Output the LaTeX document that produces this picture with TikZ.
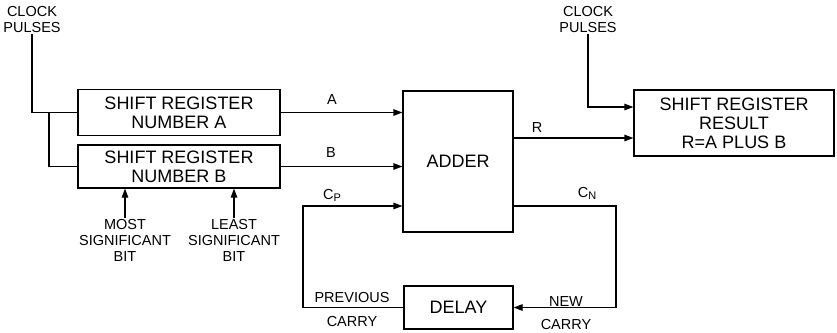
\documentclass[tikz,border=0pt]{standalone}
\usepackage{fontspec}
\setmainfont{Liberation Sans}
\usetikzlibrary{calc,arrows.meta}

\tikzset{
  block/.style={draw,line width=1.2pt,align=center,inner sep=0pt,
    font=\fontsize{18}{19}\selectfont},
  lbl/.style={align=center,inner sep=1pt,font=\fontsize{14.5}{16}\selectfont},
  wire/.style={line width=1.2pt},
  arr/.style={wire,-{Triangle[length=9pt,width=6.5pt]}}
}

\begin{document}
\begin{tikzpicture}[x=1pt,y=-1pt]
  \useasboundingbox (0,0) rectangle (837,332);
  % blocks
  \node[block,minimum width=202pt,minimum height=46pt] (regA) at (179,112.5) {SHIFT REGISTER\\NUMBER A};
  \node[block,minimum width=202pt,minimum height=43pt] (regB) at (179,166.5) {SHIFT REGISTER\\NUMBER B};
  \node[block,minimum width=110pt,minimum height=141pt] (adder) at (458,161.5) {ADDER};
  \node[block,minimum width=109pt,minimum height=43pt] (delay) at (458.5,307.5) {DELAY};
  \node[block,minimum width=200pt,minimum height=66pt] (result) at (734,123) {SHIFT REGISTER\\RESULT\\R=A PLUS B};
  % labels
  \node[lbl] (clkL) at (32,20) {CLOCK\\PULSES};
  \node[lbl] (clkR) at (588,20) {CLOCK\\PULSES};
  \node[lbl] (msb) at (125,240) {MOST\\SIGNIFICANT\\BIT};
  \node[lbl] (lsb) at (234,240) {LEAST\\SIGNIFICANT\\BIT};
  \node[lbl] (la) at (332,100) {A};
  \node[lbl] (lb) at (331,153) {B};
  \node[lbl] (lcp) at (332,195) {C{\fontsize{11}{11}\selectfont\raisebox{-0.35ex}{P}}};
  \node[lbl] (lr) at (537,128) {R};
  \node[lbl] (lcn) at (587,193) {C{\fontsize{11}{11}\selectfont\raisebox{-0.35ex}{N}}};
  \node[lbl] (prev) at (352,298) {PREVIOUS};
  \node[lbl] (prevc) at (352,322) {CARRY};
  \node[lbl] (new) at (566,302) {NEW};
  \node[lbl] (newc) at (566,325) {CARRY};
  % corner points
  \coordinate (split) at (49,112.5);
  \coordinate (cp) at (303,206);
  \coordinate (cn) at (616,206);
  \coordinate (rout) at (513,138);
  \coordinate (clkin) at (588,107);
  % clock inputs
  \draw[wire] (clkL.south) |- (regA.west);
  \draw[wire] (split) |- (regB.west);
  \draw[arr] (clkR.south) -- (clkin) -- (clkin -| result.west);
  % bit markers
  \draw[arr] (msb.north) -- (msb.north |- regB.south);
  \draw[arr] (lsb.north) -- (lsb.north |- regB.south);
  % data paths
  \draw[arr] (regA.east) -- (regA.east -| adder.west);
  \draw[arr] (regB.east) -- (regB.east -| adder.west);
  \draw[arr] (adder.east |- rout) -- (rout -| result.west);
  % carry loop
  \draw[arr] (adder.east |- cn) -- (cn) |- (delay.east);
  \draw[arr] (delay.west) -| (cp) -- (cp -| adder.west);
\end{tikzpicture}
\end{document}
